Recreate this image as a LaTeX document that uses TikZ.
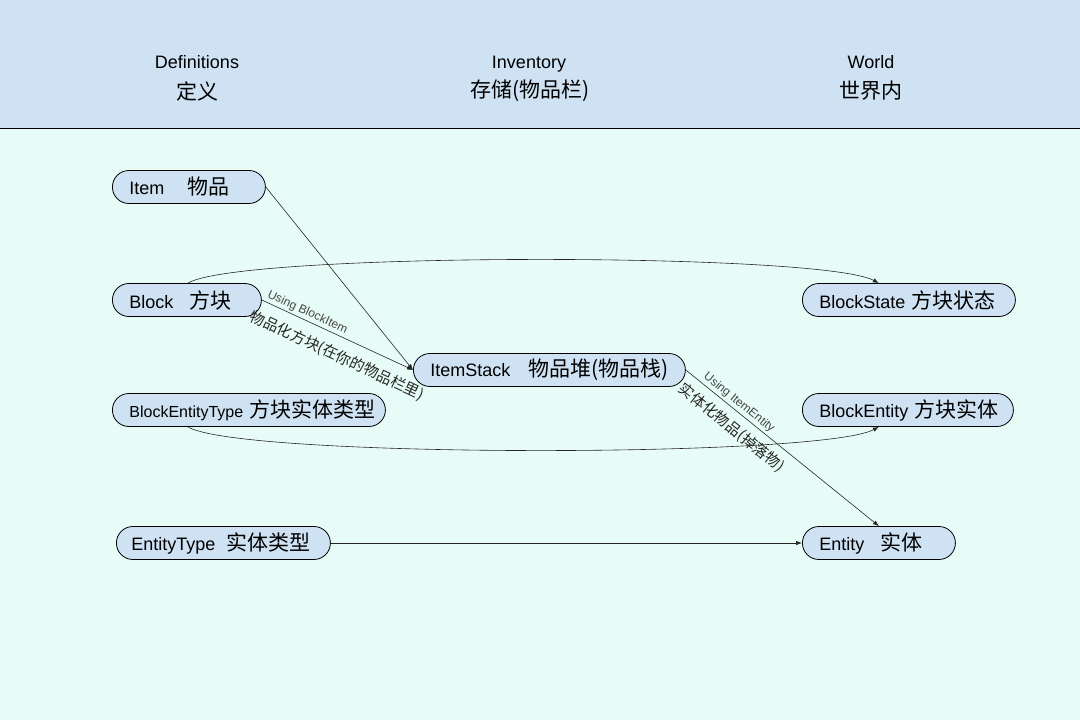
\documentclass[tikz,border=0pt]{standalone}
\usepackage{fontspec}
\setmainfont{Liberation Sans}
\newfontfamily\cjk{Noto Sans CJK SC}
\usetikzlibrary{arrows.meta,calc}
\definecolor{hdr}{RGB}{207,226,243}
\definecolor{bgm}{RGB}{232,252,247}
\definecolor{nfill}{RGB}{207,226,243}
\definecolor{lbl}{RGB}{70,70,70}
\newcommand\zh[1]{{\fontsize{21}{21}\cjk #1}}
\tikzset{
  nd/.style={draw=black, line width=0.8pt, fill=nfill, rounded corners=16.5pt,
    minimum height=33pt, inner xsep=17pt, inner ysep=0pt, anchor=west, align=left,
    font=\fontsize{18}{20}\selectfont},
  conn/.style={draw=black!85, line width=0.6pt, -{Latex[length=6pt,width=4.5pt]}},
  hd/.style={font=\fontsize{18}{20}\selectfont, inner sep=0pt, anchor=base},
  hdz/.style={font=\fontsize{21}{22}\cjk, inner sep=0pt},
  small/.style={font=\fontsize{12}{13}\selectfont, text=lbl, inner sep=1pt},
  zhl/.style={font=\fontsize{15}{16}\cjk, text=black!85, inner sep=1pt}
}
\begin{document}
\begin{tikzpicture}[x=1pt,y=-1pt]
\useasboundingbox (0,0) rectangle (1080,720);
\fill[bgm] (0,0) rectangle (1080,720);
\fill[hdr] (0,0) rectangle (1080,128);
\draw[black, line width=1pt] (0,128) -- (1080,128);

\node[hd] (hdef) at (197,68) {Definitions};
\node[hdz] (hdefz) at (197,91) {定义};
\node[hd] (hinv) at (529,68) {Inventory};
\node[hdz] (hinvz) at (530,91) {存储(物品栏)};
\node[hd] (hwld) at (871,68) {World};
\node[hdz] (hwldz) at (871,91) {世界内};

\node[nd, text width=119pt] (item) at (112,187) {\mbox{Item\hspace{1.3em}\zh{物品}}};
\node[nd, text width=115pt] (block) at (112,300) {\mbox{Block\hspace{0.9em}\zh{方块}}};
\node[nd, text width=239pt] (bet) at (112,410) {\mbox{{\fontsize{16}{20}\selectfont BlockEntityType} \zh{方块实体类型}}};
\node[nd, text width=184pt, inner xsep=15pt] (et) at (116,543) {\mbox{EntityType\hspace{0.6em}\zh{实体类型}}};
\node[nd, text width=238pt] (stack) at (413,370) {\mbox{ItemStack\hspace{1em}\zh{物品堆(物品栈)}}};
\node[nd, text width=179pt] (bs) at (802,300) {\mbox{BlockState \zh{方块状态}}};
\node[nd, text width=177pt] (be) at (802,410) {\mbox{BlockEntity \zh{方块实体}}};
\node[nd, text width=119pt] (ent) at (802,543) {\mbox{Entity\hspace{0.9em}\zh{实体}}};

\draw[conn] (item.east) -- (stack.west);
\draw[conn] (block.east) -- node[small, sloped, above=1pt, pos=0.28] {Using BlockItem}
  node[zhl, sloped, below=10pt, pos=0.55] {物品化方块(在你的物品栏里)} (stack.west);
\draw[conn] ([xshift=1pt]block.north) .. controls (240,252) and (820,252) .. ([xshift=-30pt]bs.north);
\draw[conn] ([xshift=-61pt]bet.south) .. controls (240,458) and (820,458) .. ([xshift=-29pt]be.south);
\draw[conn] (stack.east) -- node[small, sloped, above=1pt, pos=0.25] {Using ItemEntity}
  node[zhl, sloped, below=7pt, pos=0.29] {实体化物品(掉落物)} (ent.north);
\draw[conn] (et.east) -- (ent.west);
\end{tikzpicture}
\end{document}
